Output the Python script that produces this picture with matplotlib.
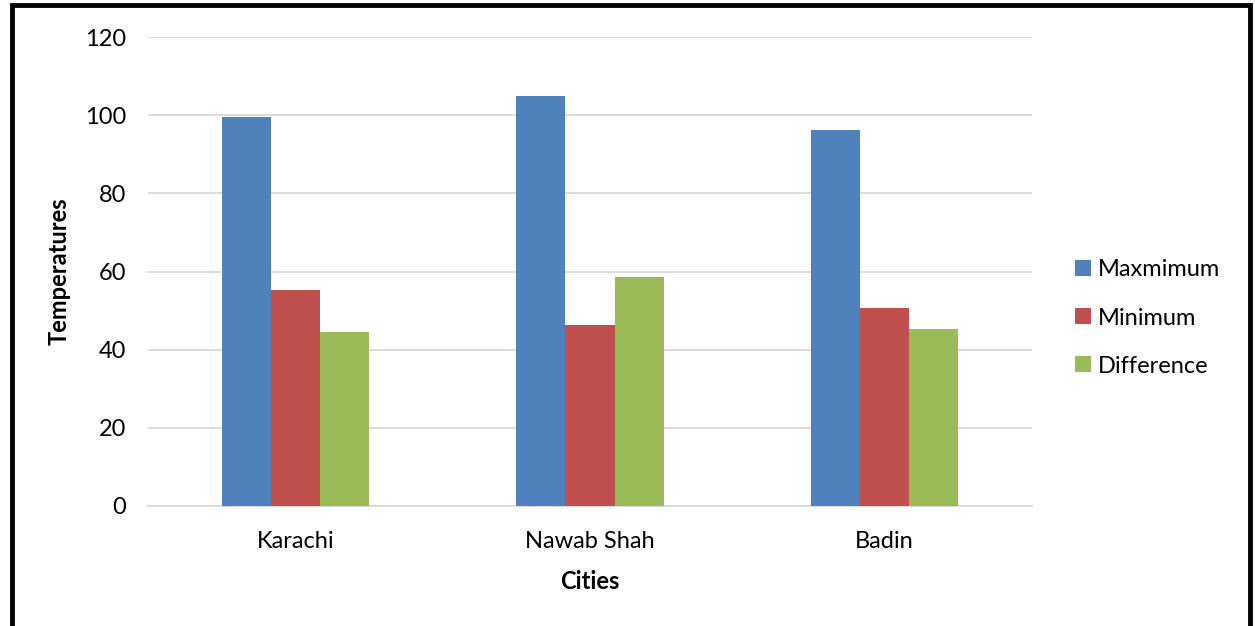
import matplotlib
matplotlib.use("Agg")
import matplotlib.pyplot as plt
import numpy as np
from matplotlib.patches import Rectangle

cities = ["Karachi", "Nawab Shah", "Badin"]
maximum = [99.6, 104.8, 96.1]
minimum = [55.2, 46.2, 50.6]
difference = [44.4, 58.5, 45.4]
series_names = ["Maxmimum", "Minimum", "Difference"]
colors = ["#4F81BD", "#C0504D", "#9BBB59"]
yticks = [0, 20, 40, 60, 80, 100, 120]

plt.rcParams['font.family'] = ['Lato', 'DejaVu Sans']

W, H = 1255, 626
fig = plt.figure(figsize=(W/100, H/100), dpi=100)
ax = fig.add_axes([148/W, 1-506/H, (1032-148)/W, (506-37)/H])

x = np.arange(len(cities))
bw = 0.167
for i, (vals, name, c) in enumerate(zip([maximum, minimum, difference], series_names, colors)):
    ax.bar(x + (i-1)*bw, vals, width=bw, color=c, label=name, zorder=3)

ax.set_xlim(-0.5, len(cities)-0.5)
ax.set_ylim(0, 120)
ax.set_yticks(yticks)
ax.set_xticks(x)
ax.set_xticklabels(cities)
ax.grid(axis='y', color='#D9D9D9', linewidth=1.3, zorder=0)
for s in ['top', 'right', 'left']:
    ax.spines[s].set_visible(False)
ax.spines['bottom'].set_color('#D9D9D9')
ax.spines['bottom'].set_linewidth(1.3)
ax.tick_params(axis='both', length=0, labelsize=17, colors='black')
ax.tick_params(axis='y', pad=16)
ax.tick_params(axis='x', pad=18)
ax.set_ylabel("Temperatures", fontsize=17, fontweight='bold', labelpad=10)
ax.set_xlabel("Cities", fontsize=17, fontweight='bold', labelpad=13)

handles, labels = ax.get_legend_handles_labels()
leg = fig.legend(handles, labels, loc='center left', bbox_to_anchor=(1054/W, 1-318/H),
                 frameon=False, fontsize=17, handlelength=0.65, handleheight=0.65,
                 handletextpad=0.3, labelspacing=1.15)

fig.patches.append(Rectangle((12/W, -0.05), (1250-12)/W, 1-5/H+0.05, transform=fig.transFigure,
                             fill=False, edgecolor='black', linewidth=3.5))

fig.savefig("out.png", dpi=100)
